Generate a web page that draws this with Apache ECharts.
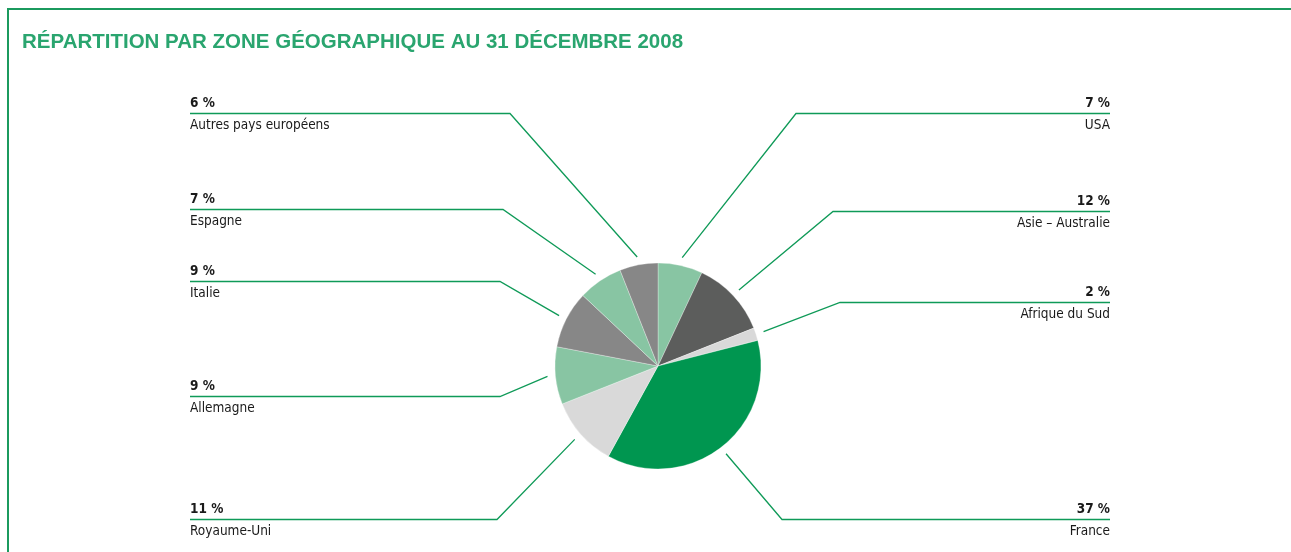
<!DOCTYPE html>
<html>
<head>
<meta charset="utf-8">
<script src="https://cdn.jsdelivr.net/npm/echarts@6/dist/echarts.min.js"></script>
<style>
html,body{margin:0;padding:0;background:#fff;}
#main{width:1291px;height:552px;}
</style>
</head>
<body>
<div id="main"></div>
<script>
// ---- data ----
var categories = ['USA', 'Asie – Australie', 'Afrique du Sud', 'France', 'Royaume-Uni', 'Allemagne', 'Italie', 'Espagne', 'Autres pays européens'];
var percentValues = [7, 12, 2, 37, 11, 9, 9, 7, 6];
var sliceColors = ['#88c5a3', '#5c5d5c', '#d9d9d9', '#009650', '#d9d9d9', '#88c5a3', '#878787', '#88c5a3', '#878787'];

// ---- layout (label anchor placement, as in the reference) ----
var CX = 658, CY = 366, R = 103;
var labelLineY = [113.5, 211.5, 302.5, 519.5, 519.5, 396.5, 281.5, 209.5, 113.5];
var labelElbowX = [796, 833, 840, 782, 497, 500, 500, 503, 510];
var LEFT_X = 190, RIGHT_X = 1110;
var FONT = '"Liberation Sans Narrow", "DejaVu Sans Condensed", "Liberation Sans", sans-serif';

var total = percentValues.reduce(function (a, b) { return a + b; }, 0);
var midAngles = [];
(function () {
  var cum = 0;
  for (var i = 0; i < percentValues.length; i++) {
    midAngles.push((cum + percentValues[i] / 2) / total * 2 * Math.PI);
    cum += percentValues[i];
  }
})();

var chart = echarts.init(document.getElementById('main'), null, { renderer: 'canvas' });

var option = {
  animation: false,
  backgroundColor: '#fff',
  title: {
    text: 'RÉPARTITION PAR ZONE GÉOGRAPHIQUE AU 31 DÉCEMBRE 2008',
    left: 17,
    top: 27,
    textStyle: { fontFamily: '"Liberation Sans", Arial, sans-serif', fontSize: 20.5, fontWeight: 'bold', color: '#2aa56f' }
  },
  graphic: [
    { type: 'line', shape: { x1: 8, y1: 9, x2: 1291, y2: 9 }, style: { stroke: '#1b9a5e', lineWidth: 2 } },
    { type: 'line', shape: { x1: 8, y1: 8, x2: 8, y2: 552 }, style: { stroke: '#1b9a5e', lineWidth: 2 } }
  ],
  series: [{
    type: 'pie',
    center: [CX, CY],
    radius: R,
    startAngle: 90,
    clockwise: true,
    avoidLabelOverlap: false,
    itemStyle: { borderColor: 'rgba(255,255,255,0.6)', borderWidth: 0.5 },
    label: {
      show: true,
      position: 'outside',
      fontFamily: FONT,
      color: '#1a1a1a',
      formatter: function (p) { return '{p|' + p.value + ' %}\n{n|' + p.name + '}'; },
      rich: {
        p: { fontFamily: FONT, fontSize: 13.5, fontWeight: 'bold', color: '#1a1a1a', lineHeight: 24 },
        n: { fontFamily: FONT, fontSize: 13.5, color: '#1a1a1a', lineHeight: 20 }
      }
    },
    labelLine: { show: true, lineStyle: { color: '#0f9a58', width: 1.3 } },
    labelLayout: function (params) {
      var i = params.dataIndex;
      var a = midAngles[i];
      var rs = R + 8;
      var sx = CX + rs * Math.sin(a), sy = CY - rs * Math.cos(a);
      var isRight = Math.sin(a) > 0;
      var ly = labelLineY[i];
      var ex = isRight ? RIGHT_X : LEFT_X;
      return {
        x: ex,
        y: ly,
        align: isRight ? 'right' : 'left',
        verticalAlign: 'middle',
        labelLinePoints: [[sx, sy], [labelElbowX[i], ly], [ex, ly]]
      };
    },
    data: categories.map(function (c, i) {
      return { name: c, value: percentValues[i], itemStyle: { color: sliceColors[i] } };
    })
  }]
};
chart.setOption(option);
</script>
</body>
</html>
